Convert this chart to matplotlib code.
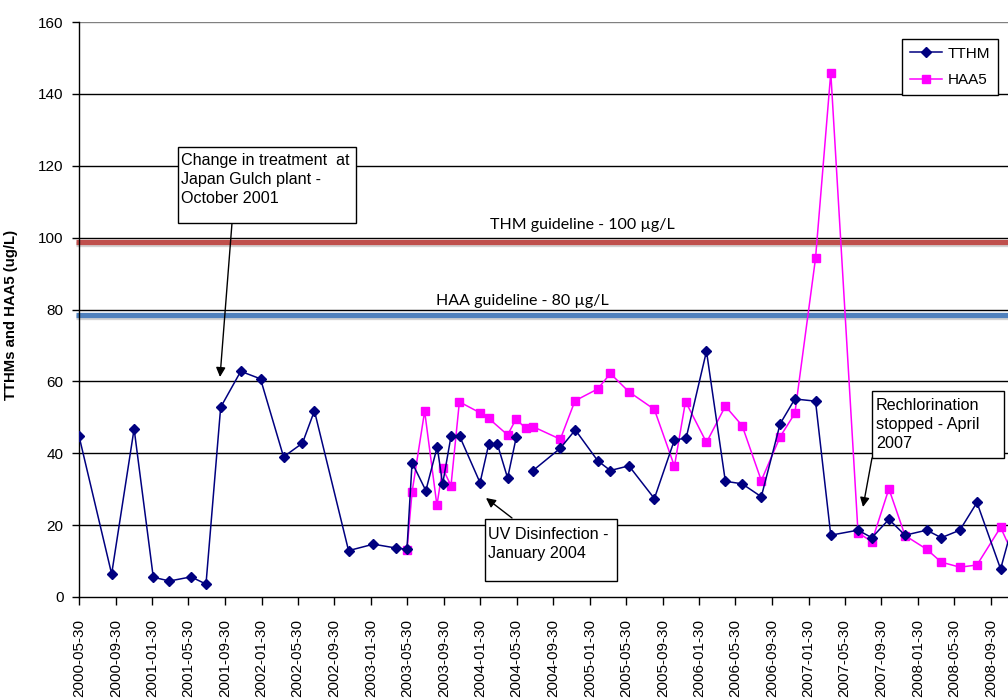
import matplotlib
matplotlib.use("Agg")
import matplotlib.pyplot as plt
import matplotlib.dates as mdates
import matplotlib.patheffects as pe
from matplotlib.patches import Rectangle, FancyArrowPatch
import numpy as np
import pandas as pd

plt.rcParams['font.family'] = ['Liberation Sans', 'DejaVu Sans']

# ---------------- data ----------------
tthm_dates = ["2000-05-30", "2000-09-16", "2000-11-30", "2001-02-02", "2001-03-28",
              "2001-06-08", "2001-07-28", "2001-09-15", "2001-11-21", "2002-01-26",
              "2002-04-13", "2002-06-15", "2002-07-25", "2002-11-16", "2003-02-07",
              "2003-04-25", "2003-05-30", "2003-06-16", "2003-08-01", "2003-09-08",
              "2003-09-26", "2003-10-24", "2003-11-22", "2004-01-29", "2004-02-27",
              "2004-03-27", "2004-04-30", "2004-05-29", "2004-06-30", "2004-07-24",
              "2004-10-23", "2004-12-12", "2005-02-25", "2005-04-08", "2005-06-09",
              "2005-09-02", "2005-11-08", "2005-12-17", "2006-02-23", "2006-04-27",
              "2006-06-22", "2006-08-25", "2006-10-27", "2006-12-15", "2007-02-22",
              "2007-04-14", "2007-07-14", "2007-08-29", "2007-10-25", "2007-12-18",
              "2008-02-28", "2008-04-17", "2008-06-18", "2008-08-14", "2008-11-01",
              "2008-12-11"]
tthm_values = [44.8, 6.4, 46.8, 5.5, 4.45,
               5.6, 3.6, 52.8, 62.8, 60.7,
               39.0, 42.8, 51.8, 12.9, 14.7,
               13.6, 13.3, 37.4, 29.6, 41.8,
               31.4, 44.7, 44.7, 31.8, 42.5,
               42.5, 33.1, 44.5, np.nan, 35.2,
               41.4, 46.5, 37.9, 35.2, 36.5,
               27.4, 43.7, 44.2, 68.4, 32.2,
               31.5, 27.9, 48.2, 55.1, 54.5,
               17.2, 18.6, 16.5, 21.6, 17.2,
               18.6, 16.5, 18.6, 26.3, 7.8,
               20.0]

haa5_dates = ["2003-05-30", "2003-06-16", "2003-07-28", "2003-09-07", "2003-09-26",
              "2003-10-24", "2003-11-21", "2004-01-28", "2004-02-27", "2004-04-30",
              "2004-05-28", "2004-06-30", "2004-07-24", "2004-10-23", "2004-12-11",
              "2005-02-25", "2005-04-08", "2005-06-09", "2005-09-02", "2005-11-08",
              "2005-12-15", "2006-02-23", "2006-04-27", "2006-06-22", "2006-08-25",
              "2006-10-27", "2006-12-15", "2007-02-22", "2007-04-14", "2007-07-14",
              "2007-08-29", "2007-10-25", "2007-12-18", "2008-02-28", "2008-04-17",
              "2008-06-18", "2008-08-14", "2008-11-01", "2008-12-11"]
haa5_values = [13.1, 29.2, 51.7, 25.5, 35.8,
               31.0, 54.3, 51.3, 49.7, 45.1,
               49.5, 46.9, 47.4, 43.9, 54.6,
               57.9, 62.2, 57.1, 52.2, 36.4,
               54.4, 43.0, 53.1, 47.7, 32.4,
               44.6, 51.1, 94.2, 145.9, 17.9,
               15.4, 30.1, 17.1, 13.3, 9.7,
               8.3, 8.9, 19.4, 12.0]

tick_labels = ["2000-05-30", "2000-09-30", "2001-01-30", "2001-05-30", "2001-09-30",
               "2002-01-30", "2002-05-30", "2002-09-30", "2003-01-30", "2003-05-30",
               "2003-09-30", "2004-01-30", "2004-05-30", "2004-09-30", "2005-01-30",
               "2005-05-30", "2005-09-30", "2006-01-30", "2006-05-30", "2006-09-30",
               "2007-01-30", "2007-05-30", "2007-09-30", "2008-01-30", "2008-05-30",
               "2008-09-30"]

thm_guideline = 98.7
haa_guideline = 78.4

# ---------------- figure ----------------
W, H = 1008, 698
fig = plt.figure(figsize=(W / 100, H / 100), dpi=100)
ax = fig.add_axes([79 / W, 101 / H, (W - 79) / W, 575 / H])

def px(x, y):
    return (x / W, 1 - y / H)

td = pd.to_datetime(tthm_dates)
hd = pd.to_datetime(haa5_dates)
ticks = pd.to_datetime(tick_labels)

ax.plot(td, tthm_values, color='#000080', lw=1.1, marker='D', ms=4.6,
        markeredgecolor='#000080', markerfacecolor='#000080', label='TTHM', zorder=4)
ax.plot(hd, haa5_values, color='#FF00FF', lw=1.1, marker='s', ms=6.3,
        markeredgecolor='#FF00FF', markerfacecolor='#FF00FF', label='HAA5', zorder=3)

x0 = mdates.date2num(pd.Timestamp("2000-05-30"))
ax.set_xlim(x0, x0 + (W - 78.3) / 0.29974)
ax.set_ylim(0, 160)
ax.set_yticks(np.arange(0, 161, 20))
ax.set_xticks(ticks)
ax.set_xticklabels(tick_labels, rotation=90, fontsize=11)
ax.tick_params(axis='y', labelsize=11, length=5, width=1, pad=6, direction='out')
ax.tick_params(axis='x', length=6, width=1, pad=10, direction='out')

for v in np.arange(20, 161, 20):
    ax.axhline(v, color='black' if v < 160 else '#808080', lw=1.0, zorder=1)

for s in ['top', 'right']:
    ax.spines[s].set_visible(False)
ax.spines['left'].set_linewidth(1.0)
ax.spines['bottom'].set_linewidth(1.0)

ax.set_ylabel('TTHMs and HAA5 (ug/L)', fontsize=10.7, fontweight='bold')
ax.yaxis.set_label_coords((18 - 79) / (W - 79), 0.49)

# guideline bands
shadow = [pe.SimpleLineShadow(offset=(0, -1.5), shadow_color='gray', alpha=0.35), pe.Normal()]
for val, col in [(thm_guideline, '#C0504D'), (haa_guideline, '#4F81BD')]:
    ax.plot([-0.003, 1.0], [val, val], transform=ax.get_yaxis_transform(),
            color=col, lw=3.8, solid_capstyle='butt', clip_on=False, zorder=2,
            path_effects=shadow)

fig.text(*px(490, 229), 'THM guideline - 100 µg/L', fontsize=11.5, family=['Lato', 'DejaVu Sans'],
         ha='left', va='baseline')
fig.text(*px(436, 305), 'HAA guideline - 80 µg/L', fontsize=11.5, family=['Lato', 'DejaVu Sans'],
         ha='left', va='baseline')

# legend
leg = ax.legend(loc='upper left', fontsize=11, frameon=True, fancybox=False,
                handlelength=2.1, borderpad=0.5, labelspacing=0.8, handletextpad=0.4,
                borderaxespad=0)
leg.set_bbox_to_anchor((902 / W, 1 - 39 / H), transform=fig.transFigure)
leg.get_frame().set_edgecolor('black')
leg.get_frame().set_linewidth(1.0)
leg.get_frame().set_alpha(1)

# annotation boxes
def box(x1, y1, x2, y2, text, tx, ty):
    (fx1, fy1) = px(x1, y2)
    r = Rectangle((fx1, fy1), (x2 - x1) / W, (y2 - y1) / H, transform=fig.transFigure,
                  facecolor='white', edgecolor='black', lw=1.0, zorder=10)
    fig.add_artist(r)
    fig.text(*px(tx, ty), text, fontsize=11.6, ha='left', va='top', linespacing=1.32,
             zorder=11)

def arrow(xa, ya, xb, yb):
    a = FancyArrowPatch(px(xa, ya), px(xb, yb), transform=fig.transFigure,
                        arrowstyle='-|>', mutation_scale=14, color='black', lw=1.0,
                        shrinkA=0, shrinkB=0, zorder=9)
    fig.add_artist(a)

box(178, 147, 356, 223, 'Change in treatment  at\nJapan Gulch plant -\nOctober 2001', 181, 153)
arrow(232, 223, 220, 377)
box(485, 519, 617, 581, 'UV Disinfection -\nJanuary 2004', 488, 527)
arrow(512, 518, 486, 498)
box(872, 391, 1004, 458, 'Rechlorination\nstopped - April\n2007', 876, 398)
arrow(872, 458, 863, 507)

fig.savefig('out.png', dpi=100)
